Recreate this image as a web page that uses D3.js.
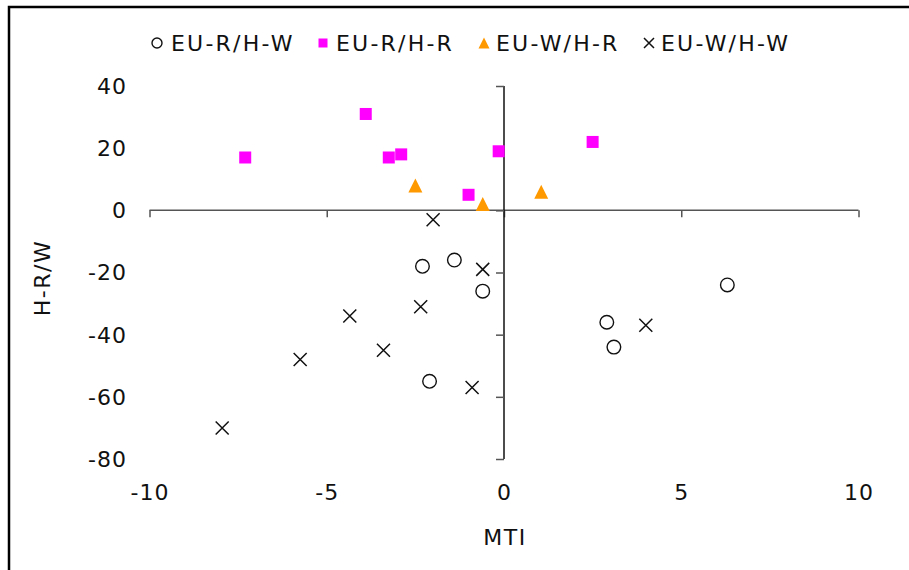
<!DOCTYPE html>
<html><head><meta charset="utf-8">
<script src="https://cdn.jsdelivr.net/npm/d3@7"></script>
<style>
html,body{margin:0;padding:0;background:#fff;}
text{font-family:"DejaVu Sans",Verdana,sans-serif;fill:#111;}
</style></head>
<body>
<svg id="chart" width="909" height="570"></svg>
<script>
// ---- data ----
const seriesNames = ["EU-R/H-W", "EU-R/H-R", "EU-W/H-R", "EU-W/H-W"];
const euRhW_x = [-2.3, -1.4, -0.6, -2.1, 6.3, 2.9, 3.1];
const euRhW_y = [-18, -16, -26, -55, -24, -36, -44];
const euRhR_x = [-7.3, -3.9, -3.25, -2.9, -1.0, -0.15, 2.5];
const euRhR_y = [17, 31, 17, 18, 5, 19, 22];
const euWhR_x = [-2.5, -0.6, 1.05];
const euWhR_y = [8, 2, 6];
const euWhW_x = [-2.0, -0.6, -2.35, -4.35, -3.4, -5.75, -0.9, -7.95, 4.0];
const euWhW_y = [-3, -19, -31, -34, -45, -48, -57, -70, -37];
const xTicks = [-10, -5, 0, 5, 10];
const yTicks = [40, 20, 0, -20, -40, -60, -80];
const xTitle = "MTI";
const yTitle = "H-R/W";

const svg = d3.select("#chart");
const x = d3.scaleLinear().domain([-10, 10]).range([149.5, 858.5]);
const y = d3.scaleLinear().domain([-80, 40]).range([459, 86]);

// frame
svg.append("rect").attr("x", 9).attr("y", 7).attr("width", 1000).attr("height", 1000)
  .attr("fill", "none").attr("stroke", "#000").attr("stroke-width", 2.5);

// x axis at y=0
const xAxis = d3.axisBottom(x).tickValues(xTicks).tickSize(7).tickFormat("");
const gx = svg.append("g").attr("transform", `translate(0,${y(0)})`).call(xAxis);
gx.select(".domain").attr("stroke", "#555").attr("stroke-width", 1.5).attr("d", `M${x(-10)},0H${x(10)}`);
gx.selectAll(".tick line").attr("stroke", "#555").attr("stroke-width", 1.5);

// y axis at x=0
const yAxis = d3.axisLeft(y).tickValues(yTicks).tickSize(8).tickFormat("");
const gy = svg.append("g").attr("transform", `translate(${x(0)},0)`).call(yAxis);
gy.select(".domain").attr("stroke", "#111").attr("stroke-width", 1.5).attr("d", `M0,${y(40)}V${y(-80)}`);
gy.selectAll(".tick line").attr("stroke", "#555").attr("stroke-width", 1.5);

// tick labels (low position)
const fs = 22, ls = 1;
svg.append("g").selectAll("text").data(yTicks).join("text")
  .attr("x", 126 + ls).attr("y", d => y(d)).attr("dy", "0.36em")
  .attr("text-anchor", "end").attr("font-size", fs).attr("letter-spacing", ls)
  .text(d => d);
svg.append("g").selectAll("text").data(xTicks).join("text")
  .attr("x", d => x(d) + ls / 2).attr("y", 492).attr("dy", "0.36em")
  .attr("text-anchor", "middle").attr("font-size", fs).attr("letter-spacing", ls)
  .text(d => d);

// axis titles
svg.append("text").attr("x", x(0) + 1).attr("y", 537).attr("dy", "0.36em")
  .attr("text-anchor", "middle").attr("font-size", fs).attr("letter-spacing", 1.5).text(xTitle);
svg.append("text").attr("transform", "translate(42,278) rotate(-90)").attr("dy", "0.36em")
  .attr("text-anchor", "middle").attr("font-size", fs).attr("letter-spacing", 1.5).text(yTitle);

// markers
const plot = svg.append("g");
function zip(xs, ys) { return xs.map((v, i) => [v, ys[i]]); }

function drawCircle(g, cx, cy, r) {
  g.append("circle").attr("cx", cx).attr("cy", cy).attr("r", r)
    .attr("fill", "none").attr("stroke", "#111").attr("stroke-width", 1.4);
}
function drawSquare(g, cx, cy, s) {
  g.append("rect").attr("x", cx - s / 2).attr("y", cy - s / 2).attr("width", s).attr("height", s)
    .attr("fill", "#ff00ff");
}
function drawTri(g, cx, cy, s) {
  const h = s;
  g.append("path").attr("d", `M${cx},${cy - h / 2}L${cx + s / 2},${cy + h / 2}L${cx - s / 2},${cy + h / 2}Z`)
    .attr("fill", "#ff9900");
}
function drawCross(g, cx, cy, s) {
  const h = s / 2;
  g.append("path").attr("d", `M${cx - h},${cy - h}L${cx + h},${cy + h}M${cx - h},${cy + h}L${cx + h},${cy - h}`)
    .attr("stroke", "#111").attr("stroke-width", 1.5).attr("fill", "none");
}

zip(euRhW_x, euRhW_y).forEach(d => drawCircle(plot, x(d[0]), y(d[1]), 6.8));
zip(euRhR_x, euRhR_y).forEach(d => drawSquare(plot, x(d[0]), y(d[1]), 12));
zip(euWhR_x, euWhR_y).forEach(d => drawTri(plot, x(d[0]), y(d[1]), 14));
zip(euWhW_x, euWhW_y).forEach(d => drawCross(plot, x(d[0]), y(d[1]), 13));

// legend
const leg = svg.append("g");
const legItems = [
  { name: seriesNames[0], mx: 157, tx: 171, draw: (g, cx, cy) => drawCircle(g, cx, cy, 5) },
  { name: seriesNames[1], mx: 323, tx: 336, draw: (g, cx, cy) => drawSquare(g, cx, cy, 9) },
  { name: seriesNames[2], mx: 484, tx: 496, draw: (g, cx, cy) => drawTri(g, cx, cy, 11) },
  { name: seriesNames[3], mx: 649, tx: 661, draw: (g, cx, cy) => drawCross(g, cx, cy, 10) }
];
legItems.forEach(it => {
  it.draw(leg, it.mx, 43);
  leg.append("text").attr("x", it.tx).attr("y", 43).attr("dy", "0.36em")
    .attr("font-size", fs).attr("letter-spacing", 2.2).text(it.name);
});
</script>
</body></html>
